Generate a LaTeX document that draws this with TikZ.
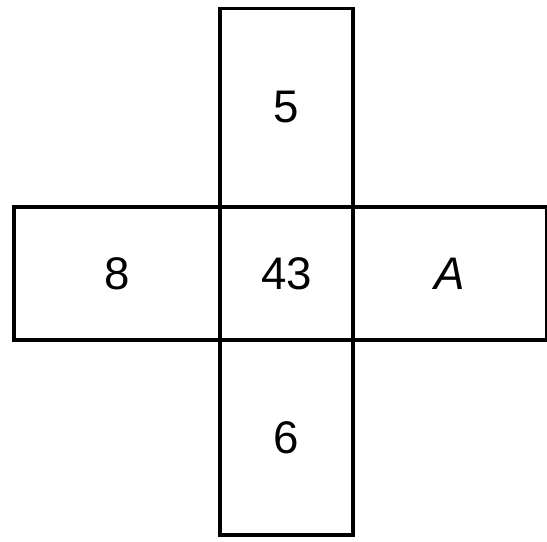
\documentclass[tikz,border=0pt]{standalone}
\usepackage{fontspec}
\setmainfont{Liberation Sans}
\usepackage{tikz}
\usetikzlibrary{positioning}

\begin{document}
\begin{tikzpicture}[
    x=0.02cm, y=-0.02cm,
    cell/.style={draw, line width=2pt, inner sep=0pt, font=\fontsize{26}{28}\selectfont},
    vcell/.style={cell, minimum width=2.66cm, minimum height=3.96cm},
    hcell/.style={cell, minimum height=2.66cm}
]
\useasboundingbox (0,0) rectangle (547,541);

% the cross
\node[vcell] (top) at (286.5,107.5) {5};
\node[cell, minimum width=2.66cm, minimum height=2.66cm] (mid) at (286.5,273.5) {43};
\node[hcell, minimum width=4.12cm] (left) at (117,273.5) {8};
\node[hcell, minimum width=3.88cm] (right) at (450,273.5) {\itshape A};
\node[vcell, minimum height=3.90cm] (bot) at (286.5,437.5) {6};

\end{tikzpicture}
\end{document}
